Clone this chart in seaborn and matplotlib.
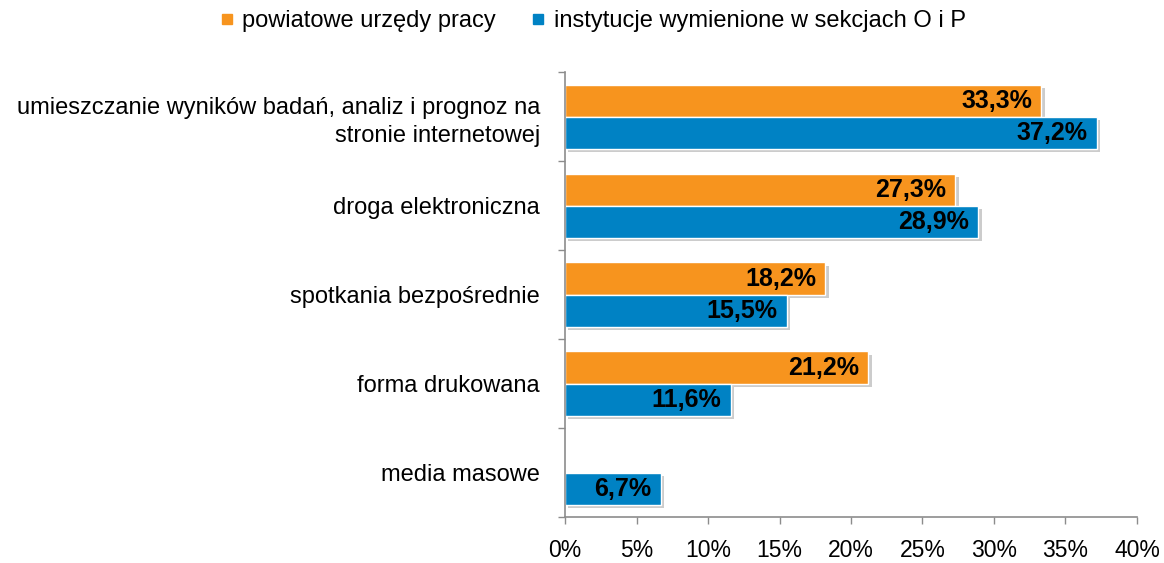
import numpy as np
import pandas as pd
import matplotlib
matplotlib.use("Agg")
import matplotlib.pyplot as plt
import matplotlib.patheffects as pe
from matplotlib.ticker import FixedLocator, PercentFormatter
import seaborn as sns

categories = [
    "umieszczanie wyników badań, analiz i prognoz na\nstronie internetowej",
    "droga elektroniczna",
    "spotkania bezpośrednie",
    "forma drukowana",
    "media masowe",
]
series_names = ["powiatowe urzędy pracy", "instytucje wymienione w sekcjach O i P"]
pup_values = [33.3, 27.3, 18.2, 21.2, np.nan]
inst_values = [37.2, 28.9, 15.5, 11.6, 6.7]
x_ticks = [0, 5, 10, 15, 20, 25, 30, 35, 40]

colors = ["#F7941E", "#0082C4"]

df = pd.DataFrame({
    "kategoria": categories * 2,
    "seria": [series_names[0]] * len(categories) + [series_names[1]] * len(categories),
    "wartosc": pup_values + inst_values,
})

sns.set_style("white")
plt.rcParams["font.family"] = ["Liberation Sans", "DejaVu Sans"]
plt.rcParams["text.color"] = "black"
plt.rcParams["xtick.color"] = "black"
plt.rcParams["ytick.color"] = "black"

fig = plt.figure(figsize=(11.64, 5.63), dpi=100)
ax = fig.add_axes([0.4854, 0.0817, 0.4914, 0.7903])

sns.barplot(data=df, y="kategoria", x="wartosc", hue="seria", order=categories,
            hue_order=series_names, palette=colors, saturation=1, orient="h",
            width=0.72, edgecolor="white", linewidth=1.0, ax=ax, legend=False)

shadow = [pe.SimplePatchShadow(offset=(2.5, -2.5), shadow_rgbFace="#808080", alpha=0.4),
          pe.Normal()]
for container in ax.containers:
    for bar in container:
        bar.set_path_effects(shadow)
        w = bar.get_width()
        if np.isnan(w) or w == 0:
            continue
        ax.text(w - 0.65, bar.get_y() + bar.get_height() / 2,
                f"{w:.1f}%".replace(".", ","), ha="right", va="center",
                fontsize=18, fontweight="bold", color="black")

ax.set_xlim(0, 40)
ax.set_ylim(len(categories) - 0.5, -0.5)
ax.xaxis.set_major_locator(FixedLocator(x_ticks))
ax.xaxis.set_major_formatter(PercentFormatter(decimals=0))
ax.set_xlabel("")
ax.set_ylabel("")

ax.set_yticks(range(len(categories)))
ax.set_yticklabels(categories, fontsize=17, ha="right", linespacing=1.35)
ax.set_yticks(np.arange(-0.5, len(categories), 1.0), minor=True)
ax.tick_params(axis="y", which="major", length=0, pad=18)
ax.tick_params(axis="y", which="minor", length=5, width=1, color="#8C8C8C", direction="out")
ax.tick_params(axis="x", length=5, width=1, color="#8C8C8C", labelcolor="black",
               direction="out", labelsize=16.5, pad=11)
ax.tick_params(axis="both", bottom=True, left=True)
ax.tick_params(axis="y", which="minor", left=True)

for side in ["top", "right"]:
    ax.spines[side].set_visible(False)
for side in ["left", "bottom"]:
    ax.spines[side].set_color("#8C8C8C")
    ax.spines[side].set_linewidth(1.2)

handles = [plt.Line2D([], [], marker="s", linestyle="none", markersize=7,
                      markerfacecolor=c, markeredgecolor=c) for c in colors]
fig.legend(handles, series_names, loc="center", bbox_to_anchor=(0.508, 0.962),
           ncol=2, frameon=False, fontsize=17, handletextpad=0.25,
           columnspacing=1.4, handlelength=0.8, labelcolor="black")

fig.savefig("out.png", dpi=100)
